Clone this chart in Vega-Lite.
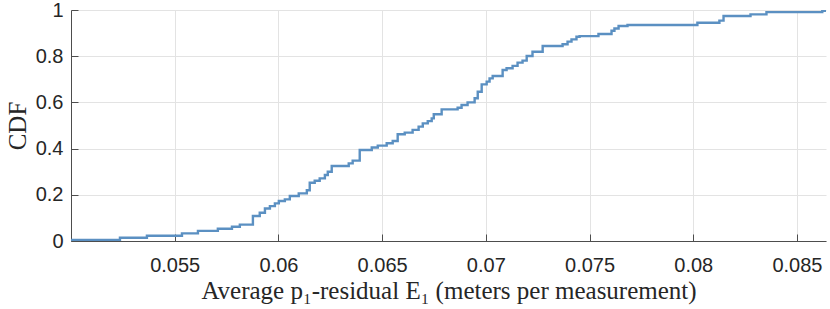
{
  "$schema": "https://vega.github.io/schema/vega-lite/v6.json",
  "width": 755,
  "height": 231,
  "autosize": {"type": "none"},
  "padding": {"left": 71, "top": 10, "right": 4, "bottom": 68},
  "background": "white",
  "config": {
    "view": {"stroke": null},
    "axis": {
      "labelFont": "Liberation Sans",
      "labelFontSize": 20,
      "labelColor": "#262626",
      "titleFont": "Liberation Serif",
      "titleFontSize": 25,
      "titleFontWeight": "normal",
      "titleColor": "#262626",
      "domainColor": "#4d4d4d",
      "tickColor": "#4d4d4d",
      "gridColor": "#e3e3e3",
      "gridWidth": 1
    }
  },
  "data": {
    "values": [
      {"x": 0.05000, "y": 0.005},
      {"x": 0.05236, "y": 0.014},
      {"x": 0.05366, "y": 0.023},
      {"x": 0.05535, "y": 0.033},
      {"x": 0.05612, "y": 0.044},
      {"x": 0.05708, "y": 0.053},
      {"x": 0.05776, "y": 0.062},
      {"x": 0.05814, "y": 0.071},
      {"x": 0.05877, "y": 0.108},
      {"x": 0.05910, "y": 0.122},
      {"x": 0.05935, "y": 0.141},
      {"x": 0.05959, "y": 0.151},
      {"x": 0.05983, "y": 0.163},
      {"x": 0.06002, "y": 0.173},
      {"x": 0.06031, "y": 0.180},
      {"x": 0.06055, "y": 0.195},
      {"x": 0.06098, "y": 0.206},
      {"x": 0.06137, "y": 0.220},
      {"x": 0.06151, "y": 0.252},
      {"x": 0.06175, "y": 0.261},
      {"x": 0.06199, "y": 0.271},
      {"x": 0.06224, "y": 0.286},
      {"x": 0.06238, "y": 0.300},
      {"x": 0.06257, "y": 0.325},
      {"x": 0.06339, "y": 0.336},
      {"x": 0.06358, "y": 0.348},
      {"x": 0.06392, "y": 0.394},
      {"x": 0.06450, "y": 0.405},
      {"x": 0.06479, "y": 0.413},
      {"x": 0.06522, "y": 0.423},
      {"x": 0.06551, "y": 0.433},
      {"x": 0.06575, "y": 0.462},
      {"x": 0.06609, "y": 0.469},
      {"x": 0.06647, "y": 0.481},
      {"x": 0.06676, "y": 0.495},
      {"x": 0.06696, "y": 0.509},
      {"x": 0.06720, "y": 0.519},
      {"x": 0.06739, "y": 0.531},
      {"x": 0.06749, "y": 0.549},
      {"x": 0.06787, "y": 0.570},
      {"x": 0.06864, "y": 0.577},
      {"x": 0.06883, "y": 0.589},
      {"x": 0.06912, "y": 0.600},
      {"x": 0.06946, "y": 0.618},
      {"x": 0.06961, "y": 0.646},
      {"x": 0.06980, "y": 0.678},
      {"x": 0.07004, "y": 0.690},
      {"x": 0.07018, "y": 0.704},
      {"x": 0.07033, "y": 0.714},
      {"x": 0.07081, "y": 0.740},
      {"x": 0.07100, "y": 0.748},
      {"x": 0.07129, "y": 0.758},
      {"x": 0.07153, "y": 0.772},
      {"x": 0.07177, "y": 0.781},
      {"x": 0.07197, "y": 0.801},
      {"x": 0.07225, "y": 0.819},
      {"x": 0.07274, "y": 0.844},
      {"x": 0.07370, "y": 0.852},
      {"x": 0.07394, "y": 0.863},
      {"x": 0.07413, "y": 0.873},
      {"x": 0.07437, "y": 0.884},
      {"x": 0.07452, "y": 0.887},
      {"x": 0.07543, "y": 0.896},
      {"x": 0.07606, "y": 0.910},
      {"x": 0.07620, "y": 0.920},
      {"x": 0.07640, "y": 0.931},
      {"x": 0.07683, "y": 0.935},
      {"x": 0.08020, "y": 0.945},
      {"x": 0.08126, "y": 0.954},
      {"x": 0.08146, "y": 0.974},
      {"x": 0.08276, "y": 0.981},
      {"x": 0.08353, "y": 0.991},
      {"x": 0.08622, "y": 0.996},
      {"x": 0.08637, "y": 1.0}
    ]
  },
  "mark": {"type": "line", "interpolate": "step-after", "color": "#5b90c2", "strokeWidth": 2.4, "clip": true},
  "encoding": {
    "x": {
      "field": "x",
      "type": "quantitative",
      "scale": {"domain": [0.05, 0.0864], "nice": false, "zero": false},
      "axis": {
        "title": "Average p₁-residual E₁ (meters per measurement)",
        "values": [0.055, 0.06, 0.065, 0.07, 0.075, 0.08, 0.085],
        "format": "~g",
        "tickSize": -7,
        "labelPadding": 21,
        "titleY": 57,
        "titleBaseline": "alphabetic"
      }
    },
    "y": {
      "field": "y",
      "type": "quantitative",
      "scale": {"domain": [0, 1], "nice": false},
      "axis": {
        "title": "CDF",
        "values": [0, 0.2, 0.4, 0.6, 0.8, 1],
        "format": "~g",
        "tickSize": -7,
        "labelPadding": 15,
        "titleX": -46,
        "titleY": 115.5,
        "titleAngle": -90,
        "titleAlign": "center",
        "titleBaseline": "alphabetic"
      }
    }
  }
}
